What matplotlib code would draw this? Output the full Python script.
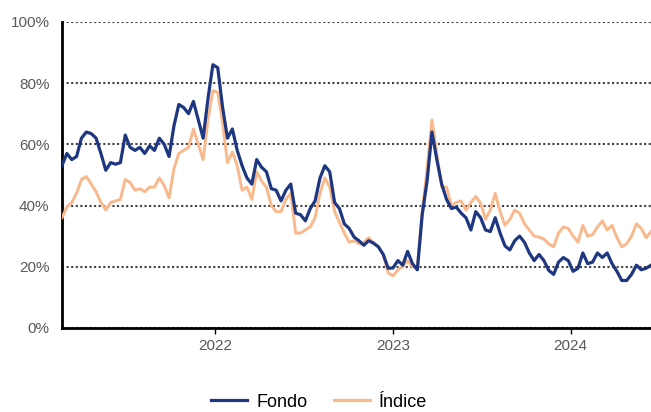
import pandas as pd
import matplotlib
matplotlib.use('Agg')
import matplotlib.pyplot as plt
import matplotlib.dates as mdates
from matplotlib.ticker import FuncFormatter
from matplotlib.lines import Line2D

plt.rcParams['font.family'] = ['Liberation Sans', 'DejaVu Sans']

# 10-day sampling, Feb 2021 - Jun 2024 (values in %)
fechas = pd.date_range('2021-02-20', periods=122, freq='10D')

fondo = [
    53, 57, 55, 56, 62, 64, 63.5, 62, 57, 51.5,
    54, 53.5, 54, 63, 59, 58, 59, 57, 59.5, 58,
    62, 60, 56, 66, 73, 72, 70, 74, 68, 62,
    75, 86, 85, 72, 62, 65, 58, 53, 49, 47,
    55, 52.5, 51, 45.5, 45, 41.5, 45, 47, 37.5, 37,
    35, 39, 41.5, 49, 53, 51, 41, 39, 34, 32.5,
    29.7, 28.5, 27, 28.5, 27.7, 26.5, 24, 19.5, 19.6, 22,
    20.5, 25, 21, 19, 37, 48, 64, 55, 47, 42,
    39, 39.5, 37.5, 36, 32, 38, 36, 32, 31.5, 36,
    31, 26.8, 25.5, 28.5, 30, 28, 24.5, 22, 24, 22,
    18.8, 17.5, 21.5, 23, 22, 18.5, 19.5, 24.5, 21, 21.5,
    24.5, 23, 24.5, 21, 18.5, 15.5, 15.5, 17.5, 20.5, 19,
    19.5, 20.5,
]

indice = [
    36, 39.5, 41, 44, 48.5, 49.5, 47, 44.5, 41, 38.5,
    41, 41.5, 42, 48.5, 47.5, 45, 45.5, 44.5, 46, 46,
    49, 46.5, 42.5, 52, 57, 58, 59, 65, 60, 55,
    68, 77.5, 77, 67, 54, 57.5, 53, 45, 46, 42,
    51, 48, 46, 40, 38, 38, 42, 44, 31, 31,
    32, 33, 36, 44, 49, 46, 38, 34.5, 31, 28,
    28.5, 27.5, 28, 29.5, 27.7, 26.5, 24, 18, 17, 19,
    20, 22, 20, 19.5, 38, 52, 68, 57, 46, 46,
    40, 41, 41.5, 38.5, 41, 43, 40.8, 35.5, 38.5, 44,
    38, 33.5, 35.5, 38.5, 37.5, 34, 32, 30, 29.7, 29,
    27.5, 26.5, 31, 33, 32.5, 30, 28, 33.5, 30, 30.5,
    33, 35, 32, 33.5, 29.5, 26.5, 27.5, 30, 34, 32.5,
    29.5, 31.5,
]

color_fondo = '#1F3781'
color_indice = '#F9B98C'

fig = plt.figure(figsize=(6.51, 4.12), dpi=100)
ax = fig.add_axes([0.0952, 0.204, 0.9048, 0.743])

ax.plot(fechas, indice, color=color_indice, lw=2.1, zorder=3)
ax.plot(fechas, fondo, color=color_fondo, lw=2.3, zorder=4)

ax.set_ylim(0, 100)
ax.set_xlim(fechas[0], fechas[-1])
ax.set_yticks(range(0, 101, 20))
ax.yaxis.set_major_formatter(FuncFormatter(lambda v, p: f'{v:.0f}%'))
ax.xaxis.set_major_locator(mdates.YearLocator())
ax.xaxis.set_major_formatter(mdates.DateFormatter('%Y'))

ax.grid(axis='y', color='#404040', linestyle=(0, (1, 1.2)), lw=1.5)
ax.set_axisbelow(True)

for s in ['top', 'right']:
    ax.spines[s].set_visible(False)
for s in ['left', 'bottom']:
    ax.spines[s].set_linewidth(2)
    ax.spines[s].set_color('black')

ax.tick_params(axis='y', length=0, pad=9, labelsize=11, labelcolor='#595959')
ax.tick_params(axis='x', length=4, width=1, pad=4, labelsize=11, labelcolor='#595959')

handles = [Line2D([], [], color=color_fondo, lw=2.3),
           Line2D([], [], color=color_indice, lw=2.3)]
fig.legend(handles, ['Fondo', 'Índice'], loc='center', bbox_to_anchor=(0.49, 0.024),
           ncol=2, frameon=False, fontsize=13, handlelength=2.0,
           handletextpad=0.5, columnspacing=1.45)

fig.savefig('out.png', dpi=100)
